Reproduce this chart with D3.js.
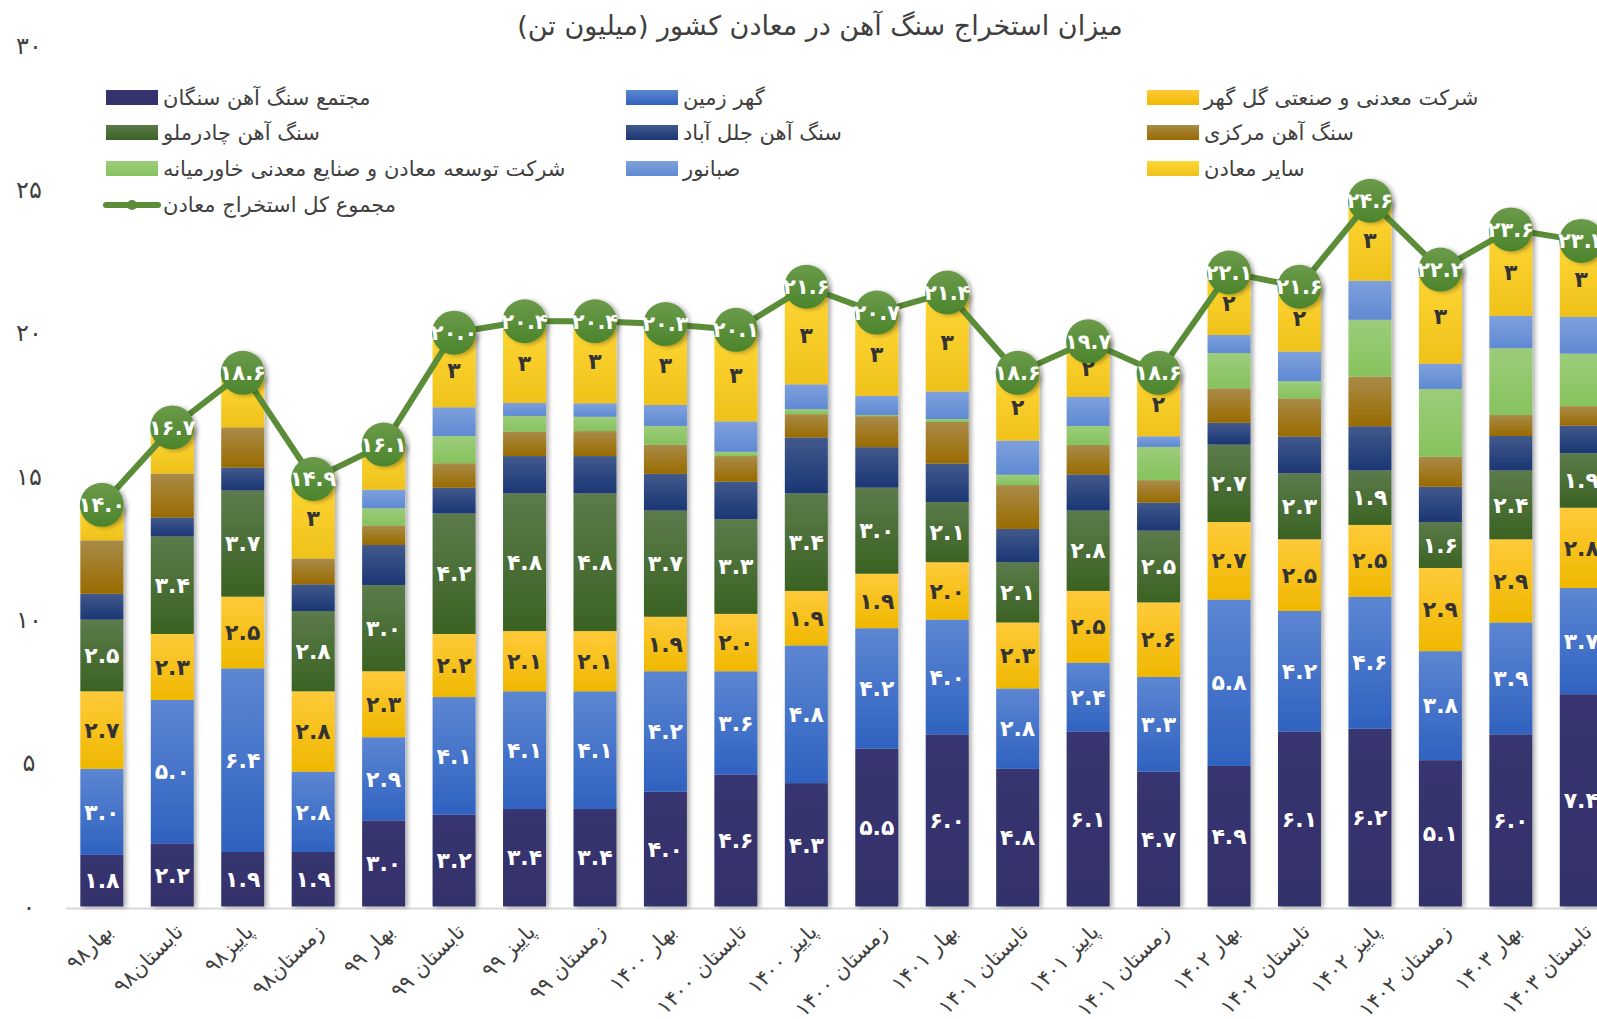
<!DOCTYPE html>
<html>
<head>
<meta charset="utf-8">
<script src="https://cdn.jsdelivr.net/npm/d3@7"></script>
<style>
  body { margin: 0; background: #fff; }
  text { font-family: "DejaVu Sans", sans-serif; }
</style>
</head>
<body>
<div id="chart-area"></div>
<script>
// Categories (seasons)
var seasons = ["بهار۹۸", "تابستان۹۸", "پاییز۹۸", "زمستان۹۸", "بهار ۹۹", "تابستان ۹۹", "پاییز ۹۹", "زمستان ۹۹",
    "بهار ۱۴۰۰", "تابستان ۱۴۰۰", "پاییز ۱۴۰۰", "زمستان ۱۴۰۰", "بهار ۱۴۰۱", "تابستان ۱۴۰۱", "پاییز ۱۴۰۱", "زمستان ۱۴۰۱",
    "بهار ۱۴۰۲", "تابستان ۱۴۰۲", "پاییز ۱۴۰۲", "زمستان ۱۴۰۲", "بهار ۱۴۰۳", "تابستان ۱۴۰۳"];

// Series values (million tonnes), bottom to top
var sangan     = [1.8, 2.2, 1.9, 1.9, 3.0, 3.2, 3.4, 3.4, 4.0, 4.6, 4.3, 5.5, 6.0, 4.8, 6.1, 4.7, 4.9, 6.1, 6.2, 5.1, 6.0, 7.4];
var goharZamin = [3.0, 5.0, 6.4, 2.8, 2.9, 4.1, 4.1, 4.1, 4.2, 3.6, 4.8, 4.2, 4.0, 2.8, 2.4, 3.3, 5.8, 4.2, 4.6, 3.8, 3.9, 3.7];
var golgohar   = [2.7, 2.3, 2.5, 2.8, 2.3, 2.2, 2.1, 2.1, 1.9, 2.0, 1.9, 1.9, 2.0, 2.3, 2.5, 2.6, 2.7, 2.5, 2.5, 2.9, 2.9, 2.8];
var chadormalu = [2.5, 3.4, 3.7, 2.8, 3.0, 4.2, 4.8, 4.8, 3.7, 3.3, 3.4, 3.0, 2.1, 2.1, 2.8, 2.5, 2.7, 2.3, 1.9, 1.6, 2.4, 1.9];
var jalalabad  = [0.9, 0.66, 0.8, 0.93, 1.4, 0.9, 1.3, 1.3, 1.28, 1.31, 1.95, 1.41, 1.34, 1.16, 1.26, 0.98, 0.76, 1.28, 1.54, 1.23, 1.2, 0.96];
var markazi    = [1.86, 1.53, 1.4, 0.9, 0.68, 0.85, 0.85, 0.87, 1.02, 0.89, 0.81, 1.08, 1.45, 1.53, 1.03, 0.78, 1.2, 1.33, 1.73, 1.05, 0.73, 0.68];
var khavar     = [0, 0, 0, 0, 0.6, 0.95, 0.55, 0.5, 0.65, 0.15, 0.17, 0.04, 0.1, 0.36, 0.66, 1.16, 1.23, 0.6, 1.98, 2.36, 2.33, 1.83];
var sabanur    = [0, 0, 0, 0, 0.65, 1.0, 0.45, 0.47, 0.73, 1.06, 0.87, 0.67, 0.96, 1.19, 1.01, 0.37, 0.63, 1.03, 1.36, 0.88, 1.13, 1.28];
var others     = [1.2, 1.6, 1.8, 2.8, 1.6, 2.6, 2.8, 2.9, 2.8, 3.2, 3.4, 2.9, 3.4, 2.3, 2.0, 2.2, 2.2, 2.3, 2.8, 3.3, 3.0, 2.6];
var totals     = [14.0, 16.7, 18.6, 14.9, 16.1, 20.0, 20.4, 20.4, 20.3, 20.1, 21.6, 20.7, 21.4, 18.6, 19.7, 18.6, 22.1, 21.6, 24.6, 22.2, 23.6, 23.2];

var seriesNames = ["مجتمع سنگ آهن سنگان", "گهر زمین", "شرکت معدنی و صنعتی گل گهر",
    "سنگ آهن چادرملو", "سنگ آهن جلل آباد", "سنگ آهن مرکزی",
    "شرکت توسعه معادن و صنایع معدنی خاورمیانه", "صبانور", "سایر معادن"];
var totalName = "مجموع کل استخراج معادن";
var yTicks = [0, 5, 10, 15, 20, 25, 30];

var keys = ["sangan", "goharZamin", "golgohar", "chadormalu", "jalalabad", "markazi", "khavar", "sabanur", "others"];
var seriesArrays = [sangan, goharZamin, golgohar, chadormalu, jalalabad, markazi, khavar, sabanur, others];

// top / bottom colours of each segment gradient
var colTop = ["#37356f", "#5d86d2", "#ffca3a", "#5c7b4b", "#41598c", "#a98b48", "#9ccc7b", "#7ea1dd", "#ffd636"];
var colBot = ["#33316b", "#2f62c0", "#efb800", "#3a6222", "#1b3674", "#996b00", "#86c35d", "#5f89d2", "#efc21a"];
var labelCol = ["#fff", "#fff", "#333", "#fff", null, null, null, null, "#333"];

function fa(s) {
    return String(s).replace(/[0-9]/g, function(c) { return "۰۱۲۳۴۵۶۷۸۹"[+c]; });
}

var rows = seasons.map(function(s, i) {
    var r = { season: s, total: totals[i] };
    keys.forEach(function(k, j) { r[k] = seriesArrays[j][i]; });
    return r;
});

var W = 1597, H = 1019;
var svg = d3.select("#chart-area").append("svg")
    .attr("width", W)
    .attr("height", H)
    .style("display", "block");

var defs = svg.append("defs");
keys.forEach(function(k, j) {
    var gr = defs.append("linearGradient").attr("id", "grad-" + k)
        .attr("x1", 0).attr("y1", 0).attr("x2", 0).attr("y2", 1);
    gr.append("stop").attr("offset", "0%").attr("stop-color", colTop[j]);
    gr.append("stop").attr("offset", "100%").attr("stop-color", colBot[j]);
});
var cg = defs.append("linearGradient").attr("id", "grad-dot")
    .attr("x1", 0).attr("y1", 0).attr("x2", 0).attr("y2", 1);
cg.append("stop").attr("offset", "0%").attr("stop-color", "#6b9b4a");
cg.append("stop").attr("offset", "100%").attr("stop-color", "#4c842c");
var sh = defs.append("filter").attr("id", "shadow")
    .attr("x", "-20%").attr("y", "-5%").attr("width", "150%").attr("height", "115%");
sh.append("feDropShadow").attr("dx", 3).attr("dy", 1).attr("stdDeviation", 2)
    .attr("flood-color", "#000").attr("flood-opacity", 0.3);

// Scales
var x = d3.scaleBand().domain(seasons).range([66.6, 1616.5])
    .paddingInner(0.39).paddingOuter(0.195);
var y = d3.scaleLinear().domain([0, 30]).range([906.5, 45.8]);

// Title
svg.append("text")
    .attr("x", 820).attr("y", 35)
    .attr("text-anchor", "middle")
    .attr("font-size", "27px")
    .attr("fill", "#404040")
    .text("میزان استخراج سنگ آهن در معادن کشور (میلیون تن)");

// Y axis labels (no line)
svg.selectAll(".ytick").data(yTicks).enter().append("text")
    .attr("class", "ytick")
    .attr("x", 29).attr("y", function(d) { return y(d); })
    .attr("dy", "0.35em")
    .attr("text-anchor", "middle")
    .attr("font-size", "24px")
    .attr("fill", "#404040")
    .text(function(d) { return fa(d); });

// Baseline
svg.append("line")
    .attr("x1", 66).attr("x2", W)
    .attr("y1", y(0) + 2).attr("y2", y(0) + 2)
    .attr("stroke", "#d9d9d9").attr("stroke-width", 2);

// Stacked bars
var stacked = d3.stack().keys(keys)(rows);
var perBar = rows.map(function(r, i) {
    return stacked.map(function(layer, j) {
        return { key: keys[j], j: j, y0: layer[i][0], y1: layer[i][1], season: r.season, v: r[keys[j]] };
    });
});

var barG = svg.selectAll(".bar").data(perBar).enter().append("g")
    .attr("class", "bar")
    .attr("filter", "url(#shadow)");
barG.selectAll("rect").data(function(d) { return d; }).enter().append("rect")
    .attr("x", function(d) { return x(d.season); })
    .attr("width", x.bandwidth())
    .attr("y", function(d) { return y(d.y1); })
    .attr("height", function(d) { return Math.max(0, y(d.y0) - y(d.y1)); })
    .attr("fill", function(d) { return "url(#grad-" + d.key + ")"; });

// Segment labels ("others" only labelled when it rounds to 2 or more)
var labData = [];
perBar.forEach(function(b) {
    b.forEach(function(d) {
        if (!labelCol[d.j]) return;
        if (d.key == "others" && d.v < 1.95) return;
        labData.push(d);
    });
});
svg.selectAll(".seglab").data(labData).enter().append("text")
    .attr("class", "seglab")
    .attr("x", function(d) { return x(d.season) + x.bandwidth() / 2; })
    .attr("y", function(d) { return y((d.y0 + d.y1) / 2); })
    .attr("dy", "0.35em")
    .attr("text-anchor", "middle")
    .attr("font-size", "22px")
    .attr("font-weight", "bold")
    .attr("fill", function(d) { return labelCol[d.j]; })
    .text(function(d) { return d.key == "others" ? fa(Math.round(d.v)) : fa(d.v.toFixed(1)); });

// Total line
var line = d3.line()
    .x(function(d) { return x(d.season) + x.bandwidth() / 2; })
    .y(function(d) { return y(d.total); });
svg.append("path")
    .attr("d", line(rows))
    .attr("fill", "none")
    .attr("stroke", "#5b8c37")
    .attr("stroke-width", 6)
    .attr("stroke-linejoin", "round");

var dots = svg.selectAll(".dot").data(rows).enter().append("g")
    .attr("class", "dot")
    .attr("transform", function(d) { return "translate(" + (x(d.season) + x.bandwidth() / 2) + "," + y(d.total) + ")"; });
dots.append("circle")
    .attr("r", 22)
    .attr("fill", "url(#grad-dot)")
    .attr("filter", "url(#shadow)");
dots.append("text")
    .attr("dy", "0.35em")
    .attr("text-anchor", "middle")
    .attr("font-size", "21px")
    .attr("font-weight", "bold")
    .attr("fill", "#fff")
    .text(function(d) { return fa(d.total.toFixed(1)); });

// X axis labels
svg.selectAll(".xlab").data(seasons).enter().append("text")
    .attr("class", "xlab")
    .attr("transform", function(d) { return "translate(" + (x(d) + x.bandwidth() / 2 + 12) + "," + 933 + ") rotate(-45)"; })
    .attr("text-anchor", "end")
    .attr("font-size", "21px")
    .attr("fill", "#404040")
    .text(function(d) { return d; });

// Legend
var legX = [106, 626, 1147];
var legY = [98, 133, 169, 205];
var leg = svg.selectAll(".leg").data(seriesNames).enter().append("g")
    .attr("class", "leg")
    .attr("transform", function(d, i) { return "translate(" + legX[i % 3] + "," + legY[Math.floor(i / 3)] + ")"; });
leg.append("rect")
    .attr("x", 0).attr("y", -8).attr("width", 52).attr("height", 15)
    .attr("fill", function(d, i) { return "url(#grad-" + keys[i] + ")"; });
leg.append("text")
    .attr("x", 57).attr("dy", "0.35em")
    .attr("font-size", "21px")
    .attr("fill", "#404040")
    .text(function(d) { return d; });

var legT = svg.append("g").attr("transform", "translate(" + legX[0] + "," + legY[3] + ")");
legT.append("line").attr("x1", 0).attr("x2", 52).attr("y1", 0).attr("y2", 0)
    .attr("stroke", "#5b8c37").attr("stroke-width", 6).attr("stroke-linecap", "round");
legT.append("circle").attr("cx", 26).attr("r", 5).attr("fill", "#5b8c37");
legT.append("text")
    .attr("x", 57).attr("dy", "0.35em")
    .attr("font-size", "21px")
    .attr("fill", "#404040")
    .text(totalName);
</script>
</body>
</html>
